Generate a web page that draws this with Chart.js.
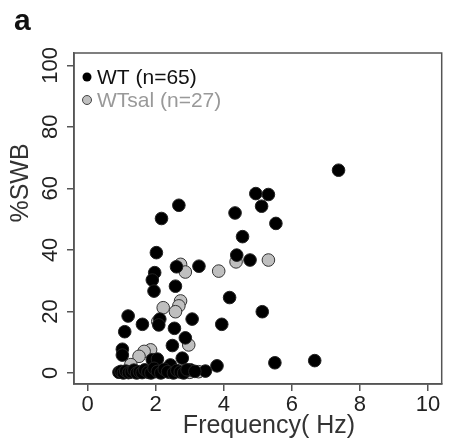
<!DOCTYPE html>
<html>
<head>
<meta charset="utf-8">
<script src="https://cdn.jsdelivr.net/npm/chart.js@4"></script>
<style>
  body { margin: 0; background: #fff; }
  canvas { display: block; }
</style>
</head>
<body>
<canvas id="myChart" width="449" height="445"></canvas>
<script>
// WT (n=65): frequency (Hz) and %SWB
const wtFreq = [2.68, 2.17, 4.94, 5.31, 5.11, 4.33, 5.53, 4.55, 7.37, 2.02,
  2.61, 3.27, 1.97, 1.90, 1.95, 2.58, 1.19, 2.12, 2.09, 1.61,
  3.07, 2.55, 1.09, 2.87, 2.49, 1.02, 1.02, 2.78, 1.90, 4.38,
  4.77, 4.17, 5.13, 3.94, 3.80, 5.50, 3.46, 3.02, 6.67, 2.43,
  2.05,
  0.92, 0.98, 1.05, 1.12, 1.20, 1.28, 1.36, 1.44, 1.52, 1.60,
  1.68, 1.77, 1.86, 1.95, 2.05, 2.15, 2.25, 2.35, 2.52, 2.62,
  2.72, 2.82, 2.92, 3.15];
const wtSwb = [54.5, 50.2, 58.3, 58.0, 54.2, 52.0, 48.6, 44.3, 65.9, 39.1,
  34.5, 34.7, 32.6, 30.2, 26.6, 28.2, 18.5, 17.5, 15.6, 15.8,
  17.5, 14.5, 13.4, 11.4, 8.9, 7.7, 5.8, 4.8, 4.3, 38.3,
  36.7, 24.5, 19.9, 15.8, 2.3, 3.3, 0.6, 1.0, 4.0, 2.6,
  4.5,
  0.2, 0.5, 0.0, 0.6, 0.1, 0.3, 0.9, 0.0, 0.4, 0.1,
  1.0, 0.3, 0.0, 1.5, 0.5, 0.0, 1.2, 0.4, 0.0, 0.8,
  0.3, 0.0, 1.0, 0.5];

// WTsal (n=27)
const salFreq = [2.73, 2.87, 2.73, 2.68, 2.58, 2.22, 2.06, 2.97, 1.85, 1.66,
  1.51, 1.27, 3.26, 4.36, 5.31, 3.85,
  1.00, 1.20, 1.40, 1.60, 1.80, 2.00, 2.20, 2.40, 2.60, 2.80, 3.00];
const salSwb = [35.3, 32.8, 23.4, 21.8, 19.9, 21.2, 16.7, 9.1, 7.5, 7.0,
  5.4, 2.7, 0.4, 36.1, 36.7, 33.1,
  0.3, 0.2, 0.4, 0.3, 0.2, 0.4, 0.3, 0.2, 0.4, 0.3, 0.2];

const xTicks = [0, 2, 4, 6, 8, 10];
const yTicks = [0, 20, 40, 60, 80, 100];
const seriesNames = ['WT (n=65)', 'WTsal (n=27)'];

const FONT = '"Liberation Sans", Arial, Helvetica, sans-serif';

function toPoints(xs, ys) {
  return xs.map((x, i) => ({ x: x, y: ys[i] }));
}

const rFrame = {
  id: 'rFrame',
  afterDraw(chart) {
    const ctx = chart.ctx;
    const a = chart.chartArea;
    const xs = chart.scales.x;
    const ys = chart.scales.y;
    ctx.save();
    // box
    ctx.strokeStyle = '#555';
    ctx.lineWidth = 1.5;
    ctx.strokeRect(a.left, a.top, a.right - a.left, a.bottom - a.top);

    // x tick labels
    ctx.fillStyle = '#222';
    ctx.font = '22px ' + FONT;
    ctx.textAlign = 'center';
    ctx.textBaseline = 'alphabetic';
    xTicks.forEach(v => {
      ctx.fillText(String(v), xs.getPixelForValue(v), 411);
    });

    // y tick labels, rotated
    yTicks.forEach(v => {
      ctx.save();
      ctx.translate(57, ys.getPixelForValue(v));
      ctx.rotate(-Math.PI / 2);
      ctx.fillText(String(v), 0, 0);
      ctx.restore();
    });

    // axis titles
    ctx.fillStyle = '#333';
    ctx.font = '25px ' + FONT;
    ctx.fillText('Frequency( Hz)', 269, 433);
    ctx.save();
    ctx.translate(28, 183);
    ctx.rotate(-Math.PI / 2);
    ctx.fillText('%SWB', 0, 0);
    ctx.restore();

    // panel letter
    ctx.fillStyle = '#111';
    ctx.font = 'bold 30px ' + FONT;
    ctx.textAlign = 'left';
    ctx.fillText('a', 14, 30);

    // legend
    ctx.font = '21px ' + FONT;
    ctx.beginPath();
    ctx.arc(87, 77, 4.5, 0, Math.PI * 2);
    ctx.fillStyle = '#000';
    ctx.fill();
    ctx.fillStyle = '#111';
    ctx.fillText(seriesNames[0], 97, 84);
    ctx.beginPath();
    ctx.arc(87, 100, 4.5, 0, Math.PI * 2);
    ctx.fillStyle = '#bfbfbf';
    ctx.fill();
    ctx.strokeStyle = '#444';
    ctx.lineWidth = 1;
    ctx.stroke();
    ctx.fillStyle = '#999';
    ctx.fillText(seriesNames[1], 97, 107);
    ctx.restore();
  }
};

const config = {
  type: 'scatter',
  data: {
    datasets: [
      {
        label: seriesNames[0],
        data: toPoints(wtFreq, wtSwb),
        backgroundColor: '#000',
        borderColor: '#222',
        borderWidth: 1,
        pointRadius: 6.3,
        pointHoverRadius: 6.3
      },
      {
        label: seriesNames[1],
        data: toPoints(salFreq, salSwb),
        backgroundColor: '#bfbfbf',
        borderColor: '#333',
        borderWidth: 1,
        pointRadius: 6.3,
        pointHoverRadius: 6.3
      }
    ]
  },
  options: {
    responsive: false,
    animation: false,
    devicePixelRatio: 1,
    layout: { padding: { top: 53, right: 5, left: 0, bottom: 0 } },
    plugins: {
      legend: { display: false },
      tooltip: { enabled: false }
    },
    scales: {
      x: {
        type: 'linear',
        min: -0.4,
        max: 10.4,
        afterBuildTicks: s => { s.ticks = xTicks.map(v => ({ value: v })); },
        afterFit: s => { s.height = 61; },
        ticks: { display: false },
        grid: { drawOnChartArea: false, drawTicks: true, tickLength: 7, color: '#555', lineWidth: 1.5 },
        border: { display: true, color: '#555', width: 1.5 }
      },
      y: {
        type: 'linear',
        min: -3.6,
        max: 104,
        afterBuildTicks: s => { s.ticks = yTicks.map(v => ({ value: v })); },
        afterFit: s => { s.width = 74; },
        ticks: { display: false },
        grid: { drawOnChartArea: false, drawTicks: true, tickLength: 7, color: '#555', lineWidth: 1.5 },
        border: { display: true, color: '#555', width: 1.5 }
      }
    }
  },
  plugins: [rFrame]
};

const myChart = new Chart(document.getElementById('myChart'), config);
</script>
</body>
</html>
